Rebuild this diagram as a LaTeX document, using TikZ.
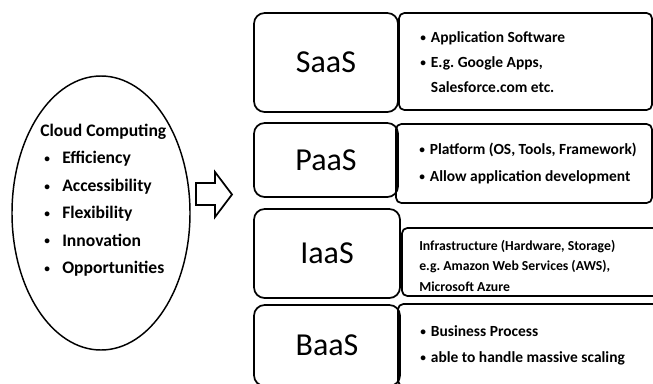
\documentclass[tikz,border=0pt]{standalone}
\usepackage{fontspec}
\setmainfont{Carlito}
\usetikzlibrary{shapes.geometric}
\frenchspacing
\newcommand{\smalldot}{\raisebox{0.8pt}{\bfseries\fontsize{8.5}{8.5}\selectfont •}}
\newcommand{\dotitem}{\hspace*{3pt}\makebox[13.5pt][l]{\smalldot}}
\newcommand{\boxitem}{\makebox[8pt][l]{\smalldot}}
\begin{document}
\begin{tikzpicture}[x=0.75pt,y=-0.75pt,
    layer/.style={draw,line width=1.3pt,rounded corners=8pt,inner sep=0pt,
      font=\fontsize{24}{28}\selectfont},
    infobox/.style={draw,line width=1.3pt,rounded corners=4pt,inner sep=0pt},
    infotext/.style={anchor=west,align=left,inner sep=0pt,
      font=\bfseries\fontsize{11.6}{18.8}\selectfont}]
  \useasboundingbox (0,0) rectangle (653,383);
  \clip (0,0) rectangle (653,383);
  % cloud computing
  \node (cloud) [draw,ellipse,line width=1.1pt,minimum width=133.5pt,
    minimum height=205.5pt,inner sep=0pt] at (101,213) {};
  \node (traits) [anchor=north west,align=left,inner sep=0pt,
    font=\bfseries\fontsize{13.2}{20.6}\selectfont] at (40,123.5)
    {Cloud Computing\\ \dotitem Efficiency\\ \dotitem Accessibility\\
     \dotitem Flexibility\\ \dotitem Innovation\\ \dotitem Opportunities};
  \draw[line width=1.3pt,line join=miter]
    (196,183) -- (215,183) -- (215,172) -- (232,194.5) -- (215,217)
    -- (215,205) -- (196,205) -- cycle;
  % service layers
  \node (saas) [layer,minimum width=108pt,minimum height=74.25pt] at (326,62.5) {SaaS};
  \node (paas) [layer,minimum width=108pt,minimum height=55.5pt] at (326,160) {PaaS};
  \node (iaas) [layer,minimum width=109.5pt,minimum height=66.75pt] at (327,253.5) {IaaS};
  \node (baas) [layer,minimum width=109.5pt,minimum height=60.75pt] at (327,345.5) {BaaS};
  \node (saasbox) [infobox,minimum width=189.75pt,minimum height=72.75pt] at (525.5,61.5) {};
  \node (paasbox) [infobox,minimum width=192pt,minimum height=59.25pt] at (524,163.5) {};
  \node (iaasbox) [infobox,minimum width=201pt,minimum height=51pt] at (536,262) {};
  \node (baasbox) [infobox,minimum width=204pt,minimum height=61.5pt] at (534,345) {};
  \node (saastext) [infotext] at (420,62)
    {\boxitem Application Software\\ \boxitem E.g. Google Apps,\\
     \hspace*{8pt}Salesforce.com etc.};
  \node (paastext) [infotext,font=\bfseries\fontsize{11.6}{20.2}\selectfont] at (419,163.5)
    {\boxitem Platform (OS, Tools, Framework)\\ \boxitem Allow application development};
  \node (iaastext) [infotext,font=\bfseries\fontsize{10.3}{15.4}\selectfont] at (419,265.5)
    {Infrastructure (Hardware, Storage)\\ e.g. Amazon Web Services (AWS),\\ Microsoft Azure};
  \node (baastext) [infotext,font=\bfseries\fontsize{11.6}{19.5}\selectfont] at (420,345)
    {\boxitem Business Process\\ \boxitem able to handle massive scaling};
\end{tikzpicture}
\end{document}
